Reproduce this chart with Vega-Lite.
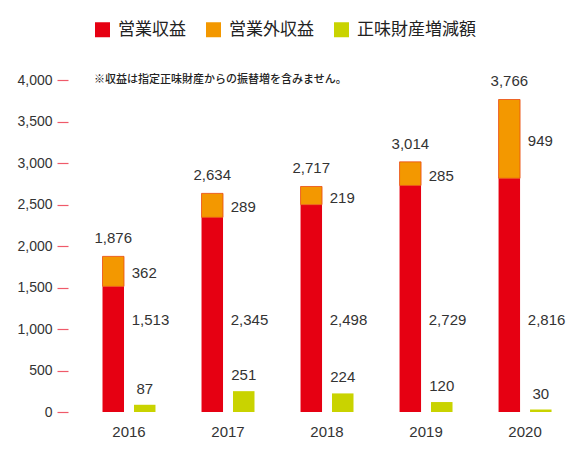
{
  "$schema": "https://vega.github.io/schema/vega-lite/v6.json",
  "width": 512,
  "height": 332,
  "autosize": {"type": "none"},
  "padding": {"left": 68, "top": 80, "right": 0, "bottom": 57},
  "background": "white",
  "title": {
    "text": "※収益は指定正味財産からの振替増を含みません。",
    "anchor": "start",
    "frame": "group",
    "font": "Noto Sans CJK JP",
    "fontSize": 11,
    "fontWeight": 500,
    "color": "#222222",
    "baseline": "middle",
    "dx": 26,
    "dy": 70,
    "offset": 0
  },
  "config": {
    "view": {"stroke": null},
    "font": "Liberation Sans",
    "axisX": {
      "domain": false,
      "ticks": false,
      "labelPadding": 12,
      "labelFontSize": 15,
      "labelColor": "#333333",
      "labelAngle": 0,
      "title": null
    },
    "axisY": {
      "domain": false,
      "grid": false,
      "tickColor": "#ef5a6a",
      "tickSize": 11,
      "tickWidth": 1.2,
      "labelPadding": 5,
      "labelFontSize": 14,
      "labelColor": "#333333",
      "labelExpr": "format(datum.value, ',')",
      "title": null
    }
  },
  "datasets": {
    "revenue": [
      {"year": "2016", "series": "営業収益", "value": 1513},
      {"year": "2016", "series": "営業外収益", "value": 362},
      {"year": "2017", "series": "営業収益", "value": 2345},
      {"year": "2017", "series": "営業外収益", "value": 289},
      {"year": "2018", "series": "営業収益", "value": 2498},
      {"year": "2018", "series": "営業外収益", "value": 219},
      {"year": "2019", "series": "営業収益", "value": 2729},
      {"year": "2019", "series": "営業外収益", "value": 285},
      {"year": "2020", "series": "営業収益", "value": 2816},
      {"year": "2020", "series": "営業外収益", "value": 949}
    ],
    "net": [
      {"year": "2016", "series": "正味財産増減額", "value": 87},
      {"year": "2017", "series": "正味財産増減額", "value": 251},
      {"year": "2018", "series": "正味財産増減額", "value": 224},
      {"year": "2019", "series": "正味財産増減額", "value": 120},
      {"year": "2020", "series": "正味財産増減額", "value": 30}
    ],
    "totals": [
      {"year": "2016", "total": 1876},
      {"year": "2017", "total": 2634},
      {"year": "2018", "total": 2717},
      {"year": "2019", "total": 3014},
      {"year": "2020", "total": 3766}
    ]
  },
  "encoding": {
    "x": {
      "field": "year",
      "type": "ordinal",
      "scale": {"paddingInner": 0.465, "paddingOuter": 0.318, "align": 0.548}
    }
  },
  "layer": [
    {
      "data": {"name": "revenue"},
      "mark": {"type": "bar", "strokeWidth": 0.8},
      "encoding": {
        "xOffset": {
          "datum": "収益",
          "scale": {"domain": ["収益", "正味"], "paddingInner": 0.317, "paddingOuter": 0}
        },
        "y": {
          "field": "value",
          "type": "quantitative",
          "stack": "zero",
          "scale": {"domain": [0, 4000], "nice": false},
          "axis": {"values": [0, 500, 1000, 1500, 2000, 2500, 3000, 3500, 4000], "labelExpr": "format(datum.value, ',')", "title": null}
        },
        "color": {
          "field": "series",
          "type": "nominal",
          "scale": {
            "domain": ["営業収益", "営業外収益", "正味財産増減額"],
            "range": ["#e60012", "#f39800", "#c9d300"]
          },
          "legend": {
            "orient": "none",
            "legendX": 26,
            "legendY": -59,
            "direction": "horizontal",
            "title": null,
            "symbolType": "square",
            "symbolSize": 225,
            "symbolStrokeWidth": 0,
            "labelFont": "Noto Sans CJK JP",
            "labelFontSize": 17,
            "labelColor": "#222222",
            "labelOffset": 7,
            "labelLimit": 200,
            "columnPadding": 19
          }
        },
        "stroke": {
          "condition": {"test": "datum.series === '営業外収益'", "value": "#ea4a10"},
          "value": null
        },
        "order": {"field": "series", "sort": "ascending"}
      }
    },
    {
      "data": {"name": "net"},
      "mark": {"type": "bar"},
      "encoding": {
        "xOffset": {"datum": "正味"},
        "y": {
          "field": "value",
          "type": "quantitative",
          "axis": {"values": [0, 500, 1000, 1500, 2000, 2500, 3000, 3500, 4000], "labelExpr": "format(datum.value, ',')", "title": null}
        },
        "color": {"field": "series", "type": "nominal"}
      }
    },
    {
      "data": {"name": "totals"},
      "mark": {"type": "text", "baseline": "bottom", "dy": -10, "fontSize": 15, "color": "#333333"},
      "encoding": {
        "xOffset": {"datum": "収益"},
        "y": {
          "field": "total",
          "type": "quantitative",
          "axis": {"values": [0, 500, 1000, 1500, 2000, 2500, 3000, 3500, 4000], "labelExpr": "format(datum.value, ',')", "title": null}
        },
        "text": {"field": "total", "type": "quantitative", "format": ","}
      }
    },
    {
      "data": {"name": "revenue"},
      "transform": [
        {"stack": "value", "groupby": ["year"], "sort": [{"field": "series", "order": "ascending"}], "as": ["v0", "v1"]},
        {"filter": "datum.series === '営業外収益'"},
        {"fold": ["v0", "v1"], "as": ["edge", "pos"]}
      ],
      "mark": {"type": "text", "align": "left", "baseline": "middle", "dx": -13, "dy": 2, "fontSize": 15, "color": "#333333"},
      "encoding": {
        "xOffset": {"datum": "正味"},
        "y": {
          "aggregate": "mean",
          "field": "pos",
          "type": "quantitative",
          "axis": {"values": [0, 500, 1000, 1500, 2000, 2500, 3000, 3500, 4000], "labelExpr": "format(datum.value, ',')", "title": null}
        },
        "text": {"aggregate": "max", "field": "value", "type": "quantitative", "format": ","}
      }
    },
    {
      "data": {"name": "revenue"},
      "transform": [{"filter": "datum.series === '営業収益'"}],
      "mark": {"type": "text", "align": "left", "baseline": "middle", "dx": -13, "fontSize": 15, "color": "#333333"},
      "encoding": {
        "xOffset": {"datum": "正味"},
        "y": {
          "datum": 1110,
          "type": "quantitative",
          "axis": {"values": [0, 500, 1000, 1500, 2000, 2500, 3000, 3500, 4000], "labelExpr": "format(datum.value, ',')", "title": null}
        },
        "text": {"field": "value", "type": "quantitative", "format": ","}
      }
    },
    {
      "data": {"name": "net"},
      "mark": {"type": "text", "baseline": "bottom", "dy": -8, "fontSize": 15, "color": "#333333"},
      "encoding": {
        "xOffset": {"datum": "正味"},
        "y": {
          "field": "value",
          "type": "quantitative",
          "axis": {"values": [0, 500, 1000, 1500, 2000, 2500, 3000, 3500, 4000], "labelExpr": "format(datum.value, ',')", "title": null}
        },
        "text": {"field": "value", "type": "quantitative", "format": ","}
      }
    }
  ]
}
